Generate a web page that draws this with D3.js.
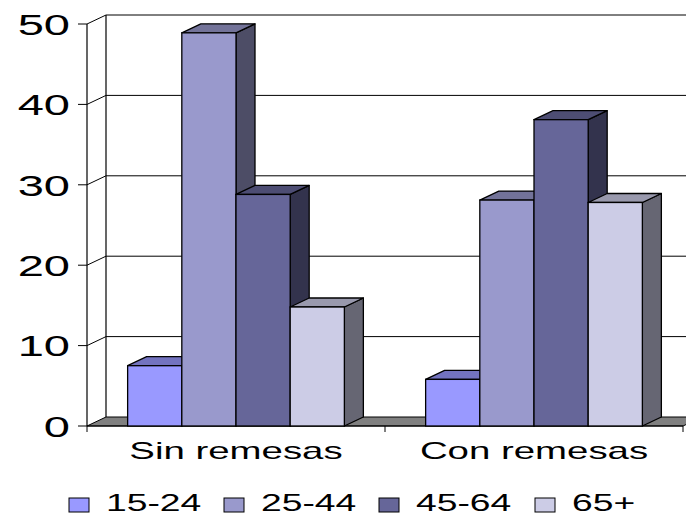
<!DOCTYPE html>
<html>
<head>
<meta charset="utf-8">
<script src="https://cdn.jsdelivr.net/npm/d3@7"></script>
<style>
  html, body { margin: 0; padding: 0; background: #fff; }
  text { font-family: "Liberation Sans", Arial, sans-serif; fill: #000; }
</style>
</head>
<body>
<svg id="chart" width="686" height="516"></svg>
<script>
const categories = ["Sin remesas", "Con remesas"];
const seriesNames = ["15-24", "25-44", "45-64", "65+"];
const values15_24 = [7.5, 5.8];
const values25_44 = [48.9, 28.1];
const values45_64 = [28.8, 38.1];
const values65 = [14.8, 27.8];
const seriesColors = ["#9999FF", "#9999CC", "#666699", "#CCCCE6"];
const yTicks = [0, 10, 20, 30, 40, 50];

const seriesValues = [values15_24, values25_44, values45_64, values65];

const svg = d3.select("#chart");
const DX = 19, DY = -9;

const y = d3.scaleLinear().domain([0, 50]).range([426, 24]);
const x0 = d3.scaleBand().domain(categories).range([87, 683]).padding(0);
const x1 = d3.scaleBand().domain(seriesNames).range([0, x0.bandwidth()]).paddingInner(0).paddingOuter(0.75);

const shade = (c, k) => { const r = d3.rgb(c); return d3.rgb(r.r * k, r.g * k, r.b * k).toString(); };

const x0L = x0.range()[0], x0R = x0.range()[1];
const g = svg.append("g");

// back wall gridlines
g.selectAll(".grid").data(yTicks.filter(d => d > 0)).join("line")
  .attr("x1", x0L + DX).attr("x2", x0R + DX)
  .attr("y1", d => y(d) + DY).attr("y2", d => y(d) + DY)
  .attr("stroke", "#000").attr("stroke-width", 1);
// back wall left edge
g.append("line").attr("x1", x0L + DX).attr("x2", x0L + DX)
  .attr("y1", y(50) + DY).attr("y2", y(0) + DY).attr("stroke", "#000").attr("stroke-width", 1.2);
// side wall diagonals
g.selectAll(".diag").data(yTicks.filter(d => d > 0)).join("line")
  .attr("x1", x0L).attr("x2", x0L + DX)
  .attr("y1", d => y(d)).attr("y2", d => y(d) + DY)
  .attr("stroke", "#000").attr("stroke-width", 1);
// floor
g.append("path")
  .attr("d", `M${x0L},${y(0)} L${x0R},${y(0)} L${x0R + DX},${y(0) + DY} L${x0L + DX},${y(0) + DY} Z`)
  .attr("fill", "#808080").attr("stroke", "#000").attr("stroke-width", 1);
// front value axis line
g.append("line").attr("x1", x0L).attr("x2", x0L).attr("y1", y(0)).attr("y2", y(50))
  .attr("stroke", "#000").attr("stroke-width", 1.2);
// y ticks
g.selectAll(".yt").data(yTicks).join("line")
  .attr("x1", x0L - 9).attr("x2", x0L).attr("y1", d => y(d)).attr("y2", d => y(d))
  .attr("stroke", "#000").attr("stroke-width", 1);
// x axis line & ticks
g.append("line").attr("x1", x0L).attr("x2", x0R).attr("y1", y(0)).attr("y2", y(0)).attr("stroke", "#000");
const xTickPos = [x0L, ...categories.map(c => x0(c) + x0.bandwidth())];
g.selectAll(".xt").data(xTickPos).join("line")
  .attr("x1", d => d).attr("x2", d => d).attr("y1", y(0)).attr("y2", y(0) + 6)
  .attr("stroke", "#000").attr("stroke-width", 1);

// bars (drawn left to right)
const bars = [];
categories.forEach((c, ci) => {
  seriesNames.forEach((s, si) => {
    bars.push({ c, s, si, v: seriesValues[si][ci] });
  });
});
const bw = x1.bandwidth();
bars.forEach(b => {
  const xl = x0(b.c) + x1(b.s), xr = xl + bw;
  const yt = y(b.v), yb = y(0);
  const col = seriesColors[b.si];
  const bg = g.append("g");
  bg.append("path")
    .attr("d", `M${xr},${yb} L${xr + DX},${yb + DY} L${xr + DX},${yt + DY} L${xr},${yt} Z`)
    .attr("fill", shade(col, 0.5)).attr("stroke", "#000").attr("stroke-width", 1.3).attr("stroke-linejoin", "round");
  bg.append("path")
    .attr("d", `M${xl},${yt} L${xr},${yt} L${xr + DX},${yt + DY} L${xl + DX},${yt + DY} Z`)
    .attr("fill", shade(col, 0.75)).attr("stroke", "#000").attr("stroke-width", 1.3).attr("stroke-linejoin", "round");
  bg.append("rect")
    .attr("x", xl).attr("y", yt).attr("width", bw).attr("height", yb - yt)
    .attr("fill", col).attr("stroke", "#000").attr("stroke-width", 1.3);
});

// y labels
const SX = 1.57;
svg.selectAll(".yl").data(yTicks).join("text")
  .attr("transform", d => `translate(70,${y(d) + 10.7}) scale(${SX},1)`)
  .attr("text-anchor", "end").attr("font-size", 30).text(d => d);

// category labels
svg.selectAll(".cl").data(categories).join("text")
  .attr("transform", d => `translate(${x0(d) + x0.bandwidth() / 2},459) scale(1.6,1)`)
  .attr("text-anchor", "middle").attr("font-size", 24).text(d => d);

// legend
const legX = [69, 224, 379, 535];
const lg = svg.selectAll(".lg").data(seriesNames).join("g")
  .attr("transform", (d, i) => `translate(${legX[i]},0)`);
lg.append("rect").attr("x", 0).attr("y", 498).attr("width", 20).attr("height", 14)
  .attr("fill", (d, i) => seriesColors[i]).attr("stroke", "#000").attr("stroke-width", 1);
lg.append("text").attr("transform", "translate(37,511) scale(1.62,1)")
  .attr("font-size", 23).text(d => d);
</script>
</body>
</html>
